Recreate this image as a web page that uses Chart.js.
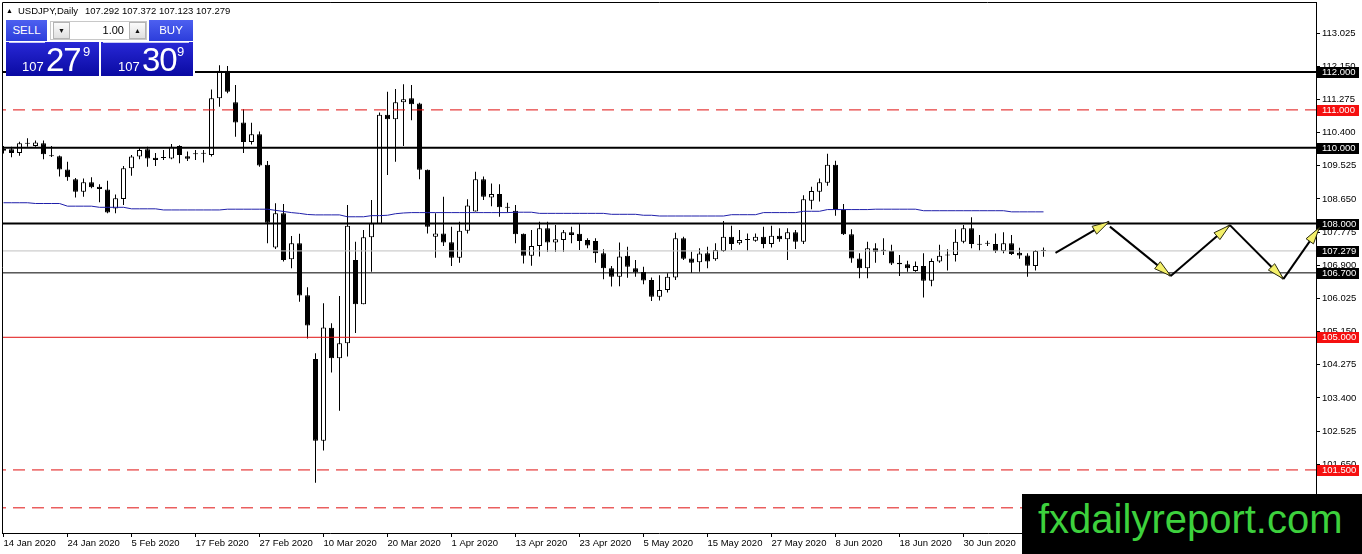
<!DOCTYPE html>
<html lang="en">
<head>
<meta charset="utf-8">
<title>USDJPY, Daily</title>
<script src="https://cdn.jsdelivr.net/npm/chart.js@4.4.1/dist/chart.umd.min.js"></script>
<style>
  html, body { margin: 0; padding: 0; background: #ffffff; }
  #chartWrap { position: relative; width: 1362px; height: 554px; overflow: hidden; font-family: "Liberation Sans", Arial, sans-serif; }
  #usdjpyChart { position: absolute; left: 0; top: 0; }

  /* Symbol line, top left */
  #header { position: absolute; left: 6px; top: 5px; font-size: 9.5px; line-height: 11px; color: #000; white-space: nowrap; }
  #hdrTri { display: inline-block; width: 12px; font-size: 7px; vertical-align: 1px; }
  #hdrOhlc { margin-left: 7px; }

  /* One click trading panel */
  #panel { position: absolute; left: 6px; top: 20px; width: 189px; height: 57px; background: #ffffff; }
  .tbtn { position: absolute; top: 0; height: 21px; background: linear-gradient(#4d60f0, #2c3ddb); color: #fff; font-size: 11.5px; line-height: 21px; text-align: center; }
  #sellBtn { left: 0; width: 41px; }
  #buyBtn { left: 143px; width: 44px; }
  #lotBox { position: absolute; left: 44px; top: 1px; width: 97px; height: 19px; border: 1px solid #c8c8c8; box-sizing: border-box; background: #fff; }
  .spin { position: absolute; top: 0; width: 17px; height: 17px; border: 1px solid #b4b4b4; box-sizing: border-box; background: linear-gradient(#fbfbfb, #e0e0e0); font-size: 7px; line-height: 15px; text-align: center; color: #111; }
  #lotDown { left: 2px; }
  #lotUp { right: 0; }
  #lotValue { position: absolute; left: 22px; right: 22px; top: 0; height: 17px; font-size: 11px; line-height: 17px; text-align: right; color: #000; }
  .pbox { position: absolute; top: 22px; height: 34px; background: linear-gradient(#2828d6, #0a0aa2); color: #fff; overflow: hidden; }
  #sellBox { left: 0; width: 93px; }
  #buyBox { left: 95px; width: 92px; }
  .pline { position: absolute; top: 0; height: 1px; background: rgba(255, 255, 255, 0.75); }
  #sellBox .pline { left: 3px; width: 36px; }
  #buyBox .pline { left: 2px; width: 86px; }
  .pHead { position: absolute; top: 18px; font-size: 13px; line-height: 13px; }
  .pBig { position: absolute; top: 1px; font-size: 33px; line-height: 33px; letter-spacing: -1px; }
  .pSup { position: absolute; top: 3px; font-size: 13px; line-height: 13px; }
  #sellBox .pHead { left: 16px; }  #sellBox .pBig { left: 40px; }  #sellBox .pSup { left: 77px; }
  #buyBox .pHead { left: 17px; }   #buyBox .pBig { left: 41px; }   #buyBox .pSup { left: 76px; }

  /* Site watermark, bottom right */
  #wm { position: absolute; left: 1022px; top: 494px; width: 340px; height: 60px; background: #000; }
  #wm span { position: absolute; left: 16px; top: 5px; font-size: 40px; line-height: 40px; color: #3dd13d; white-space: nowrap; }
</style>
</head>
<body>
<div id="chartWrap">
  <canvas id="usdjpyChart" width="1362" height="554"></canvas>

  <div id="header"><span id="hdrTri">&#9650;</span><span id="hdrName">USDJPY,Daily</span><span id="hdrOhlc"></span></div>

  <div id="panel">
    <div class="tbtn" id="sellBtn">SELL</div>
    <div id="lotBox">
      <div class="spin" id="lotDown">&#9660;</div>
      <div id="lotValue">1.00</div>
      <div class="spin" id="lotUp">&#9650;</div>
    </div>
    <div class="tbtn" id="buyBtn">BUY</div>
    <div class="pbox" id="sellBox"><div class="pline"></div><span class="pHead"></span><span class="pBig"></span><span class="pSup"></span></div>
    <div class="pbox" id="buyBox"><div class="pline"></div><span class="pHead"></span><span class="pBig"></span><span class="pSup"></span></div>
  </div>

  <div id="wm"><span>fxdailyreport.com</span></div>
</div>

<script>
/* ============================================
   DATA
   ============================================ */

// Date labels on the time axis, one every 8 daily bars
const dateLabels = ['14 Jan 2020', '24 Jan 2020', '5 Feb 2020', '17 Feb 2020', '27 Feb 2020',
  '10 Mar 2020', '20 Mar 2020', '1 Apr 2020', '13 Apr 2020', '23 Apr 2020', '5 May 2020',
  '15 May 2020', '27 May 2020', '8 Jun 2020', '18 Jun 2020', '30 Jun 2020'];
const dateLabelBars = [0, 8, 16, 24, 32, 40, 48, 56, 64, 72, 80, 88, 96, 104, 112, 120];

// Daily candles, 14 Jan 2020 -> 14 Jul 2020
const openPrices = [
  109.92, 109.96, 109.86, 110.11, 110.05, 110.12, 109.80, 109.78, 109.43, 109.17,
  108.84, 109.09, 108.97, 108.90, 108.40, 108.65, 109.46, 109.77, 109.96, 109.74,
  109.75, 109.72, 110.05, 109.78, 109.83, 109.84, 109.81, 111.31, 112.03, 111.20,
  110.67, 110.15, 110.36, 109.55, 107.37, 108.27, 107.06, 107.48, 106.11, 104.43,
  102.27, 105.25, 104.45, 104.84, 107.04, 105.87, 107.64, 107.99, 110.87, 110.75,
  111.20, 111.31, 111.17, 109.42, 107.65, 107.74, 107.51, 107.10, 107.81, 108.32,
  109.17, 108.69, 108.78, 108.44, 108.34, 107.73, 107.15, 107.41, 107.88, 107.50,
  107.57, 107.77, 107.73, 107.57, 107.54, 107.22, 106.82, 106.60, 107.15, 106.82,
  106.72, 106.51, 106.07, 106.25, 106.58, 107.61, 107.08, 106.98, 107.22, 107.06,
  107.28, 107.65, 107.48, 107.57, 107.55, 107.65, 107.46, 107.68, 107.59, 107.77,
  107.52, 108.60, 108.84, 109.08, 109.55, 108.36, 107.72, 107.08, 106.82, 107.35,
  107.31, 107.28, 106.97, 106.93, 106.75, 106.88, 106.49, 107.00, 107.16, 107.17,
  107.52, 107.88, 107.46, 107.47, 107.46, 107.28, 107.48, 107.23, 107.16, 106.88,
  107.292
];
const highPrices = [
  110.05, 110.03, 110.16, 110.25, 110.19, 110.19, 110.05, 109.80, 109.63, 109.20,
  109.19, 109.22, 109.04, 109.13, 108.77, 109.52, 109.81, 110.01, 110.03, 109.86,
  109.94, 110.10, 110.07, 109.90, 109.94, 109.94, 111.54, 112.18, 112.16, 111.66,
  111.02, 110.66, 110.43, 109.65, 108.54, 108.52, 107.67, 107.73, 106.32, 104.58,
  105.90, 105.37, 106.09, 108.49, 107.52, 107.83, 108.62, 110.93, 111.48, 111.55,
  111.68, 111.66, 111.19, 109.43, 108.27, 108.71, 107.92, 108.05, 108.64, 109.37,
  109.24, 109.06, 109.04, 108.55, 108.49, 107.74, 107.83, 108.05, 108.05, 107.96,
  107.83, 107.92, 108.01, 107.61, 107.61, 107.32, 106.88, 107.50, 107.39, 107.04,
  106.86, 106.58, 106.64, 106.69, 107.76, 107.65, 107.26, 107.35, 107.39, 107.48,
  108.07, 107.94, 107.83, 107.74, 107.74, 107.92, 107.94, 107.88, 107.88, 107.83,
  108.75, 108.97, 109.19, 109.84, 109.66, 108.52, 107.85, 107.22, 107.52, 107.48,
  107.61, 107.44, 107.17, 107.02, 107.00, 107.22, 107.08, 107.44, 107.32, 107.85,
  107.96, 108.17, 107.70, 107.55, 107.74, 107.77, 107.70, 107.36, 107.22, 107.30,
  107.372
];
const lowPrices = [
  109.85, 109.75, 109.79, 110.03, 110.03, 109.70, 109.76, 109.24, 109.13, 108.69,
  108.71, 108.93, 108.56, 108.27, 108.27, 108.49, 109.26, 109.70, 109.50, 109.52,
  109.68, 109.70, 109.59, 109.65, 109.68, 109.61, 109.77, 111.08, 111.44, 110.29,
  109.86, 110.09, 109.50, 107.48, 107.33, 107.00, 106.82, 105.94, 104.97, 101.16,
  102.01, 104.07, 103.06, 104.49, 105.11, 105.87, 106.73, 107.99, 109.28, 109.63,
  110.05, 110.73, 109.17, 107.74, 107.10, 107.41, 106.88, 106.97, 107.74, 108.32,
  108.62, 108.46, 108.18, 108.29, 107.48, 106.95, 106.89, 107.13, 107.26, 107.26,
  107.26, 107.48, 107.30, 107.35, 106.97, 106.53, 106.34, 106.35, 106.57, 106.60,
  106.40, 105.96, 105.97, 106.18, 106.51, 107.04, 106.70, 106.73, 106.82, 107.02,
  107.26, 107.30, 107.44, 107.29, 107.52, 107.35, 107.37, 107.52, 107.04, 107.33,
  107.46, 108.38, 108.58, 109.00, 108.21, 107.70, 106.97, 106.56, 106.56, 106.97,
  107.17, 106.91, 106.62, 106.73, 106.73, 106.05, 106.35, 106.97, 106.76, 107.00,
  107.48, 107.35, 107.29, 107.41, 107.23, 107.22, 107.17, 107.07, 106.60, 106.76,
  107.123
];
const closePrices = [
  109.97, 109.86, 110.12, 110.13, 110.14, 109.83, 109.78, 109.43, 109.22, 108.84,
  109.09, 108.96, 108.91, 108.29, 108.67, 109.46, 109.77, 109.94, 109.72, 109.68,
  109.73, 110.03, 109.81, 109.71, 109.84, 109.85, 111.31, 112.03, 111.48, 110.67,
  110.15, 110.36, 109.53, 108.02, 108.27, 107.04, 107.48, 106.10, 105.31, 102.27,
  105.26, 104.45, 104.84, 107.94, 105.87, 107.64, 108.01, 110.87, 110.75, 111.20,
  111.28, 111.15, 109.42, 107.92, 107.74, 107.50, 107.10, 107.81, 108.48, 109.17,
  108.71, 108.78, 108.43, 108.42, 107.72, 107.15, 107.41, 107.88, 107.50, 107.59,
  107.77, 107.70, 107.54, 107.42, 107.22, 106.82, 106.60, 107.13, 106.86, 106.71,
  106.50, 106.07, 106.25, 106.60, 107.61, 107.07, 106.97, 107.21, 107.00, 107.30,
  107.65, 107.46, 107.57, 107.59, 107.65, 107.46, 107.68, 107.59, 107.77, 107.52,
  108.64, 108.86, 109.09, 109.55, 108.36, 107.72, 107.08, 106.82, 107.35, 107.26,
  107.27, 106.95, 106.93, 106.82, 106.88, 106.49, 107.01, 107.15, 107.17, 107.52,
  107.88, 107.46, 107.44, 107.48, 107.28, 107.48, 107.20, 107.16, 106.89, 107.28,
  107.279
];

// Blue moving average line, one value per bar
const maValues = [
  108.55, 108.55, 108.55, 108.55, 108.53, 108.53, 108.53, 108.53, 108.46, 108.46,
  108.46, 108.46, 108.43, 108.43, 108.43, 108.43, 108.39, 108.39, 108.39, 108.39,
  108.36, 108.36, 108.36, 108.36, 108.36, 108.36, 108.36, 108.36, 108.38, 108.38,
  108.38, 108.38, 108.38, 108.38, 108.35, 108.32, 108.29, 108.27, 108.24, 108.23,
  108.23, 108.23, 108.23, 108.18, 108.18, 108.18, 108.21, 108.21, 108.22, 108.26,
  108.28, 108.29, 108.29, 108.29, 108.29, 108.29, 108.29, 108.29, 108.29, 108.29,
  108.29, 108.29, 108.29, 108.29, 108.30, 108.30, 108.30, 108.27, 108.27, 108.27,
  108.27, 108.27, 108.27, 108.27, 108.27, 108.27, 108.245, 108.245, 108.245, 108.245,
  108.22, 108.22, 108.20, 108.20, 108.20, 108.20, 108.20, 108.20, 108.20, 108.20,
  108.20, 108.235, 108.235, 108.235, 108.235, 108.29, 108.29, 108.29, 108.29, 108.29,
  108.325, 108.325, 108.325, 108.37, 108.37, 108.37, 108.37, 108.37, 108.37, 108.38,
  108.38, 108.38, 108.38, 108.38, 108.38, 108.34, 108.34, 108.34, 108.34, 108.34,
  108.34, 108.34, 108.34, 108.34, 108.34, 108.34, 108.31, 108.31, 108.31, 108.31,
  108.31
];

// Price scale labels on the right axis
const priceTicks = [113.025, 112.150, 111.275, 110.400, 109.525, 108.650, 107.775,
  106.900, 106.025, 105.150, 104.275, 103.400, 102.525, 101.650, 100.775];

// Horizontal levels drawn on the chart (last one is the bid line)
const levelPrices = [112.000, 111.000, 110.000, 108.000, 107.279, 106.700, 105.000, 101.500, 100.500];

// Ask price shown in the trading panel
const askPrice = 107.309;

// Projected zig-zag arrows (bar index, price)
const arrowFromBar   = [131.5, 138.3, 145.9, 153.3, 160.0];
const arrowFromPrice = [107.23, 107.92, 106.62, 107.96, 106.54];
const arrowToBar     = [138.2, 145.9, 153.3, 160.0, 164.5];
const arrowToPrice   = [108.05, 106.62, 107.96, 106.54, 107.90];

/* ============================================
   STYLES
   ============================================ */
const BLACK = '#000000';
const RED = '#e01010';
const TAG_RED = '#f51010';

const levelStyles = [
  { color: BLACK, width: 2, dash: [],      tag: BLACK },   // 112.000
  { color: RED,   width: 1, dash: [12, 7], tag: TAG_RED }, // 111.000
  { color: BLACK, width: 2, dash: [],      tag: BLACK },   // 110.000
  { color: BLACK, width: 2, dash: [],      tag: BLACK },   // 108.000
  { color: '#c0c0c0', width: 1, dash: [],  tag: BLACK },   // 107.279 bid
  { color: BLACK, width: 1, dash: [],      tag: BLACK },   // 106.700
  { color: RED,   width: 1, dash: [],      tag: TAG_RED }, // 105.000
  { color: RED,   width: 1, dash: [12, 7], tag: TAG_RED }, // 101.500
  { color: RED,   width: 1, dash: [12, 7], tag: TAG_RED }  // 100.500
];

// Axis ranges: 8 px per bar, 112.000 at y=72
const X_MIN = -0.1875;
const X_MAX = 164.0625;
const Y_MIN = 99.836;
const Y_MAX = 113.847;

/* ============================================
   HEADER + TRADING PANEL TEXT
   ============================================ */
const lastBar = closePrices.length - 1;
document.getElementById('hdrOhlc').textContent = [openPrices[lastBar], highPrices[lastBar],
  lowPrices[lastBar], closePrices[lastBar]].map(v => v.toFixed(3)).join(' ');

function fillPriceBox(id, price) {
  const s = price.toFixed(3);            // e.g. "107.279"
  const box = document.getElementById(id);
  box.querySelector('.pHead').textContent = s.slice(0, 3);
  box.querySelector('.pBig').textContent = s.slice(4, 6);
  box.querySelector('.pSup').textContent = s.slice(6);
}
fillPriceBox('sellBox', closePrices[lastBar]);
fillPriceBox('buyBox', askPrice);

/* ============================================
   DATASETS
   ============================================ */
const barIndex = closePrices.map((_, i) => i);

const wickData = barIndex.map(i => ({ x: i, y: [lowPrices[i], highPrices[i]] }));
const bodyData = barIndex.map(i => ({
  x: i,
  y: [Math.min(openPrices[i], closePrices[i]), Math.max(openPrices[i], closePrices[i])]
}));
// Bull candles hollow, bear candles filled
const bodyFill = barIndex.map(i => closePrices[i] >= openPrices[i] ? '#ffffff' : '#000000');
const maData = barIndex.map(i => ({ x: i, y: maValues[i] }));

const levelDatasets = levelPrices.map((price, k) => ({
  type: 'line',
  label: price.toFixed(3),
  data: [{ x: X_MIN - 1, y: price }, { x: X_MAX + 1, y: price }],
  borderColor: levelStyles[k].color,
  borderWidth: levelStyles[k].width,
  borderDash: levelStyles[k].dash,
  pointRadius: 0,
  clip: 0,
  order: 1
}));

/* ============================================
   OVERLAY PLUGIN (frame, price tags, arrows)
   ============================================ */
const mt4Overlay = {
  id: 'mt4Overlay',
  afterDraw(chart) {
    const { ctx, chartArea: area, scales: { x, y } } = chart;
    ctx.save();

    // Left and top edge of the frame
    ctx.strokeStyle = BLACK;
    ctx.lineWidth = 1;
    ctx.setLineDash([]);
    ctx.beginPath();
    ctx.moveTo(area.left + 0.5, area.bottom);
    ctx.lineTo(area.left + 0.5, area.top + 0.5);
    ctx.lineTo(area.right, area.top + 0.5);
    ctx.stroke();

    // Price tags on the right axis
    ctx.font = '9.5px "Liberation Sans", Arial, sans-serif';
    ctx.textBaseline = 'middle';
    ctx.textAlign = 'left';
    levelPrices.forEach((price, k) => {
      const py = Math.round(y.getPixelForValue(price));
      ctx.fillStyle = levelStyles[k].tag;
      ctx.fillRect(area.right + 1, py - 5, 42, 11);
      ctx.fillStyle = '#ffffff';
      ctx.fillText(price.toFixed(3), area.right + 6, py + 0.5);
    });

    // Zig-zag projection arrows
    arrowFromBar.forEach((bar, k) => {
      const x1 = x.getPixelForValue(bar);
      const y1 = y.getPixelForValue(arrowFromPrice[k]);
      const x2 = x.getPixelForValue(arrowToBar[k]);
      const y2 = y.getPixelForValue(arrowToPrice[k]);
      const len = Math.hypot(x2 - x1, y2 - y1);
      const ux = (x2 - x1) / len;
      const uy = (y2 - y1) / len;

      ctx.strokeStyle = BLACK;
      ctx.lineWidth = 2;
      ctx.beginPath();
      ctx.moveTo(x1, y1);
      ctx.lineTo(x2, y2);
      ctx.stroke();

      // Yellow arrow head
      const hx = x2 - ux * 17;
      const hy = y2 - uy * 17;
      ctx.beginPath();
      ctx.moveTo(x2, y2);
      ctx.lineTo(hx - uy * 4.5, hy + ux * 4.5);
      ctx.lineTo(hx + uy * 4.5, hy - ux * 4.5);
      ctx.closePath();
      ctx.fillStyle = '#f4f06a';
      ctx.fill();
      ctx.strokeStyle = '#2a2a10';
      ctx.lineWidth = 1;
      ctx.stroke();
    });

    ctx.restore();
  }
};

/* ============================================
   CHART
   ============================================ */
Chart.defaults.font.family = '"Liberation Sans", Arial, sans-serif';
Chart.defaults.font.size = 9.5;
Chart.defaults.color = '#000000';

new Chart(document.getElementById('usdjpyChart').getContext('2d'), {
  type: 'bar',
  data: {
    datasets: [
      {
        type: 'bar',
        label: 'High-Low',
        data: wickData,
        backgroundColor: BLACK,
        borderWidth: 0,
        grouped: false,
        categoryPercentage: 1,
        barPercentage: 1,
        maxBarThickness: 1,       // 1px wick
        inflateAmount: 0,
        order: 4
      },
      {
        type: 'bar',
        label: 'Open-Close',
        data: bodyData,
        backgroundColor: bodyFill,
        borderColor: BLACK,
        borderWidth: 1,
        borderSkipped: false,
        grouped: false,
        categoryPercentage: 1,
        barPercentage: 1,
        maxBarThickness: 5,       // 5px candle body
        minBarLength: 1,          // dojis still show as a line
        inflateAmount: 0,
        order: 3
      },
      {
        type: 'line',
        label: 'MA',
        data: maData,
        borderColor: '#1f1faa',
        borderWidth: 1,
        pointRadius: 0,
        tension: 0,
        clip: 0,
        order: 2
      },
      ...levelDatasets
    ]
  },
  options: {
    responsive: false,
    animation: false,
    events: [],
    layout: { padding: { left: 2, top: 2, right: 0, bottom: 0 } },
    plugins: {
      legend: { display: false },
      tooltip: { enabled: false }
    },
    scales: {
      x: {
        type: 'linear',
        min: X_MIN,
        max: X_MAX,
        offset: false,
        grid: { drawOnChartArea: false, drawTicks: true, tickLength: 4, tickColor: BLACK, offset: false },
        border: { display: true, color: BLACK, width: 1 },
        ticks: {
          autoSkip: false,
          maxRotation: 0,
          minRotation: 0,
          align: 'start',
          padding: 1,
          color: BLACK,
          callback: (value, index) => dateLabels[index]
        },
        afterBuildTicks: scale => { scale.ticks = dateLabelBars.map(v => ({ value: v })); },
        afterFit: scale => { scale.height = 21; scale.paddingLeft = 0; scale.paddingRight = 0; }
      },
      y: {
        type: 'linear',
        position: 'right',
        min: Y_MIN,
        max: Y_MAX,
        grid: { drawOnChartArea: false, drawTicks: true, tickLength: 4, tickColor: BLACK },
        border: { display: true, color: BLACK, width: 1 },
        ticks: {
          autoSkip: false,
          padding: 2,
          color: BLACK,
          callback: value => Number(value).toFixed(3)
        },
        afterBuildTicks: scale => { scale.ticks = priceTicks.map(v => ({ value: v })); },
        afterFit: scale => { scale.width = 46; scale.paddingTop = 0; scale.paddingBottom = 0; }
      }
    }
  },
  plugins: [mt4Overlay]
});
</script>
</body>
</html>
